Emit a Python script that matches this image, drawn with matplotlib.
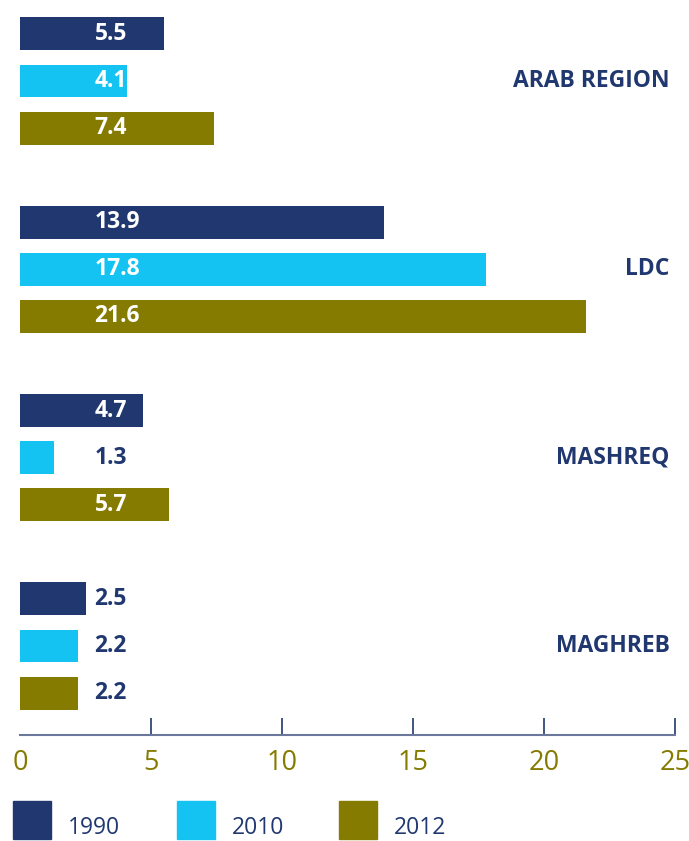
import numpy as np
import matplotlib.pyplot as plt
from matplotlib.patches import Rectangle

# data
groups = ["ARAB REGION", "LDC", "MASHREQ", "MAGHREB"]
years = ["1990", "2010", "2012"]
v1990 = [5.5, 13.9, 4.7, 2.5]
v2010 = [4.1, 17.8, 1.3, 2.2]
v2012 = [7.4, 21.6, 5.7, 2.2]
xticks = [0, 5, 10, 15, 20, 25]

navy = "#20386f"
cyan = "#15c3f3"
olive = "#857b00"
colors = [navy, cyan, olive]
series = [v1990, v2010, v2012]

plt.rcParams['font.family'] = ['Open Sans', 'DejaVu Sans']

fig = plt.figure(figsize=(6.89, 8.41), dpi=100)
ax = fig.add_axes([20 / 689, 106 / 841, 655 / 689, 735 / 841])

for j, vals in enumerate(series):
    ypos = np.arange(len(groups)) * 4 + j
    ax.barh(ypos, vals, height=0.7, color=colors[j])
    for y, v in zip(ypos, vals):
        ax.text(2.85, y, f"{v:.1f}", ha='left', va='center', fontsize=16.5,
                fontweight='bold', color='white' if v >= 4 else navy)

for i, g in enumerate(groups):
    ax.text(24.8, i * 4 + 1, g, ha='right', va='center', fontsize=16.5,
            fontweight='bold', color=navy)

ax.set_xlim(0, 25)
ax.set_ylim(14.89, -0.72)
ax.set_yticks([])
ax.set_xticks(xticks)
ax.set_xticklabels([str(t) for t in xticks])
for s in ['left', 'right', 'top']:
    ax.spines[s].set_visible(False)
ax.spines['bottom'].set_color("#6b789c")
ax.spines['bottom'].set_linewidth(1.5)
ax.tick_params(axis='x', direction='in', length=12.5, width=1.2, color=navy,
               labelsize=19.5, labelcolor=olive, pad=10)
ax.xaxis.get_major_ticks()[0].tick1line.set_visible(False)

# legend: square with the year written to its lower right
sq_x = [13, 177, 339]
for x0, c, yr in zip(sq_x, colors, years):
    fig.add_artist(Rectangle((x0 / 689, 2 / 841), 38 / 689, 38 / 841,
                             transform=fig.transFigure, color=c))
    fig.text((x0 + 55) / 689, 0.5 / 841, yr, ha='left', va='bottom',
             fontsize=16.5, color=navy)

fig.savefig("out.png", dpi=100)
